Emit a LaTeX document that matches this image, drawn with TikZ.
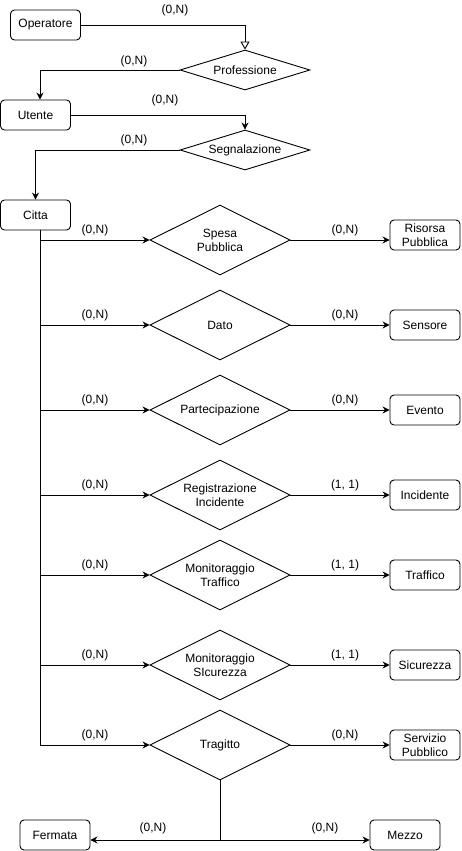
\documentclass[tikz,border=0pt]{standalone}
\usepackage{fontspec}
\setmainfont{Liberation Sans}
\usetikzlibrary{shapes.geometric,arrows.meta}
\begin{document}
\begin{tikzpicture}[x=1pt,y=-1pt,
  font=\fontsize{12}{14}\selectfont,
  line width=0.9pt,
  entity/.style={draw,rounded corners=4pt,minimum width=70pt,minimum height=30pt,inner sep=0pt,align=center},
  rel/.style={draw,shape=diamond,aspect=2,minimum width=140pt,minimum height=70pt,inner sep=0pt,align=center},
  relsmall/.style={draw,shape=diamond,aspect=3.25,minimum width=130pt,minimum height=40pt,inner sep=0pt,align=center},
  arr/.style={-{Stealth[length=7pt,width=7pt]}},
  openarr/.style={-{Triangle[open,length=8pt,width=9pt]}},
  card/.style={inner sep=0pt}]
\useasboundingbox (0,0) rectangle (461,851);
% top chain
\node[entity] (op) at (45.5,25) {Operatore};
\node[relsmall] (prof) at (245,70) {Professione};
\node[entity] (ut) at (35.5,115) {Utente};
\node[relsmall] (seg) at (245,150) {Segnalazione};
\node[entity] (cit) at (35.5,215) {Citta};
\draw[openarr] (op.east) -| (prof.north);
\draw[arr] (prof.west) -| ([xshift=4.5pt]ut.north);
\draw[arr] (ut.east) -| (seg.north);
\draw[arr] (seg.west) -| (cit.north);
\node[card] (l1) at (175,10) {(0,N)};
\node[card] (l2) at (134,61) {(0,N)};
\node[card] (l3) at (165,100) {(0,N)};
\node[card] (l4) at (134,140) {(0,N)};
% relationships
\node[rel] (r1) at (220,240) {Spesa\\Pubblica};
\node[rel] (r2) at (220,325) {Dato};
\node[rel] (r3) at (220,410) {Partecipazione};
\node[rel] (r4) at (220,495) {Registrazione\\Incidente};
\node[rel] (r5) at (220,575) {Monitoraggio\\Traffico};
\node[rel] (r6) at (220,665) {Monitoraggio\\SIcurezza};
\node[rel] (r7) at (220,745) {Tragitto};
% entities right
\node[entity] (e1) at (425,235) {Risorsa\\Pubblica};
\node[entity] (e2) at (425,325) {Sensore};
\node[entity] (e3) at (425,410) {Evento};
\node[entity] (e4) at (425,495) {Incidente};
\node[entity] (e5) at (425,575) {Traffico};
\node[entity] (e6) at (425,665) {Sicurezza};
\node[entity] (e7) at (425,745) {Servizio\\Pubblico};
% spine
\coordinate (spt) at (40,230);
\coordinate (spb) at (40,745);
\draw (spt) -- (spb);
\foreach \i/\b in {1/{(0,N)},2/{(0,N)},3/{(0,N)},4/{(1, 1)},5/{(1, 1)},6/{(1, 1)},7/{(0,N)}}{
  \draw[arr] (spt |- r\i.west) -- (r\i.west);
  \draw[arr] (r\i.east) -- (r\i.east -| e\i.west);
  \node[card] at ([yshift=10pt]95,0 |- r\i.west) {(0,N)};
  \node[card] at ([yshift=10pt]345,0 |- r\i.east) {\b};
}
% bottom
\node[entity] (fer) at (55,835) {Fermata};
\node[entity] (mez) at (405,835) {Mezzo};
\coordinate (jn) at (220,840);
\draw (r7.south) -- (jn);
\draw[arr] (jn) -- (jn -| fer.east);
\draw[arr] (jn) -- (jn -| mez.west);
\node[card] (l5) at (153,828) {(0,N)};
\node[card] (l6) at (325,828) {(0,N)};
\end{tikzpicture}
\end{document}
